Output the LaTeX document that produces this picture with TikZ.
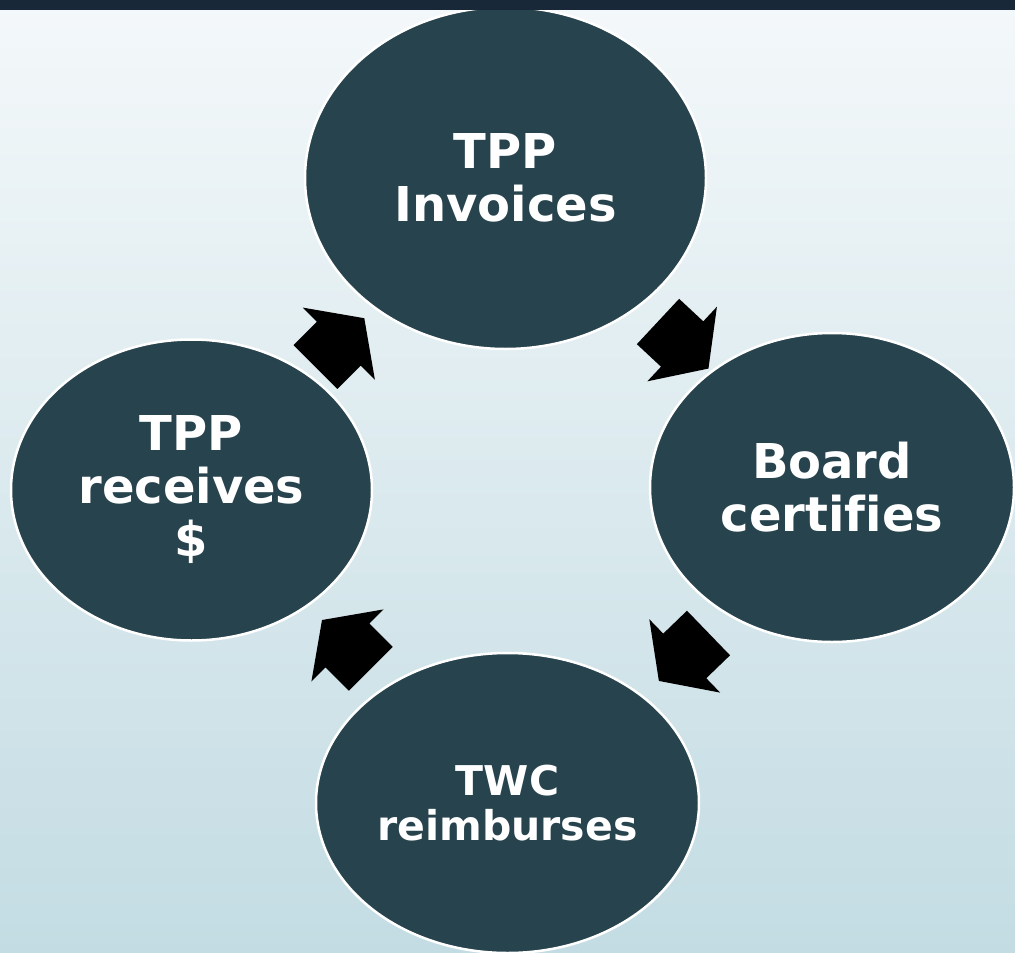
\documentclass[tikz,border=0pt]{standalone}
\usepackage{fontspec}
\setmainfont[Ligatures=NoCommon]{DejaVu Sans}
\usepackage{tikz}
\usetikzlibrary{shapes.geometric}

\definecolor{barnavy}{HTML}{182838}
\definecolor{bubblefill}{HTML}{27434D}
\definecolor{bgtop}{HTML}{F4F8FA}
\definecolor{bgbottom}{HTML}{C3DCE3}

% fat block arrow, tail at the origin, pointing along x
\tikzset{
  blockarrow/.pic={
    \fill[black] (0,-31) -- (33,-31) -- (33,-51) -- (69,0) -- (33,51) -- (33,31) -- (0,31) -- cycle;
  }
}

\begin{document}
\begin{tikzpicture}[x=1pt,y=-1pt]

    % background
    \fill[top color=bgtop, bottom color=bgbottom] (0,0) rectangle (1015,953);
    \useasboundingbox (0,0) rectangle (1015,953);

    % Add or remove nodes here, use the tuple for location
    \begin{scope}[every node/.style={ellipse, fill=bubblefill, draw=white, line width=2.5pt,
                  text=white, align=center, inner sep=0pt,
                  font=\fontsize{48}{53}\selectfont\bfseries}]
    \node[minimum width=401pt, minimum height=342pt] (A) at (505.5,178) {TPP\\Invoices};
    \node[minimum width=364pt, minimum height=309pt] (B) at (832,487.5) {Board\\certifies};
    \node[minimum width=383pt, minimum height=300pt,
          font=\fontsize{41}{45}\selectfont\bfseries] (C) at (507.5,803) {TWC\\reimburses};
    \node[minimum width=361pt, minimum height=301pt] (D) at (191.5,490) {TPP\\receives\\\$};
    \end{scope}

    % arrows round the cycle
    \pic[rotate=-43] at (658,321.5) {blockarrow};   % A to B
    \pic[rotate=-136] at (708.5,633) {blockarrow};  % B to C
    \pic[rotate=135] at (370.8,668.8) {blockarrow}; % C to D
    \pic[rotate=45] at (315.5,367) {blockarrow};    % D to A

    % title bar
    \fill[barnavy] (0,0) rectangle (1015,10);

\end{tikzpicture}
\end{document}
